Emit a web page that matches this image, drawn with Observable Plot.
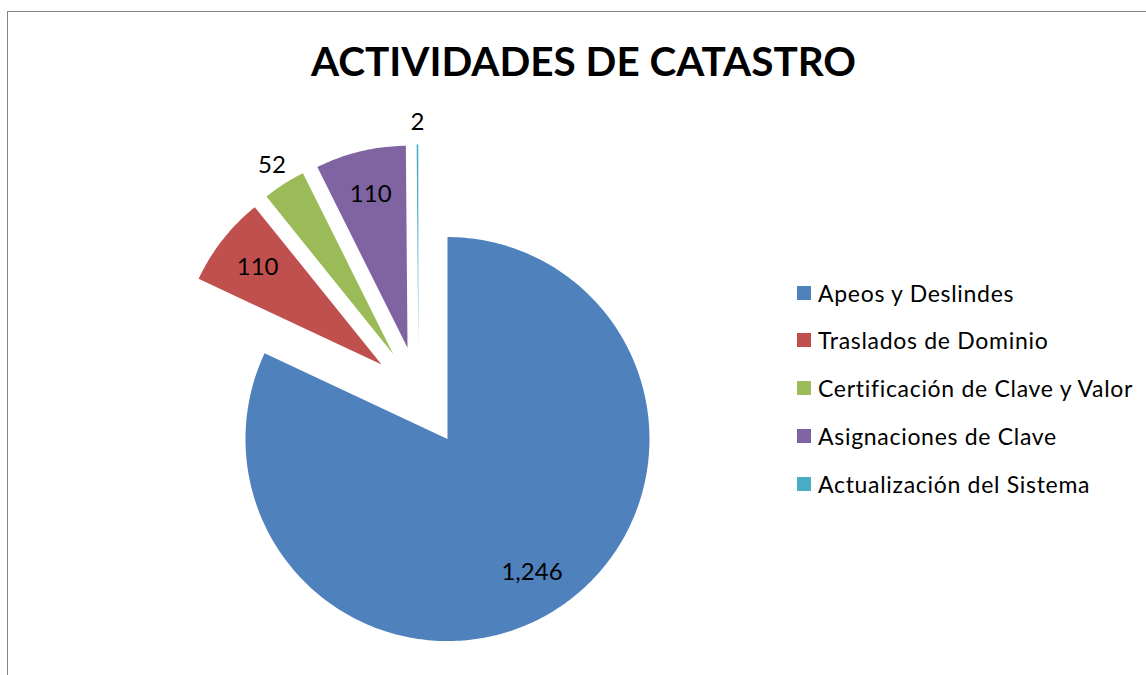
<!DOCTYPE html>
<html>
<head>
<meta charset="utf-8">
<script src="https://cdn.jsdelivr.net/npm/d3@7"></script>
<script src="https://cdn.jsdelivr.net/npm/@observablehq/plot@0.6"></script>
<style>
  html, body { margin: 0; padding: 0; background: #fff; }
  #wrap { position: relative; width: 1146px; height: 675px; overflow: hidden; font-family: Lato, "Open Sans", sans-serif; }
  #frame { position: absolute; left: 7px; top: 11px; width: 1160px; height: 700px; border-top: 1.5px solid #868686; border-left: 1.5px solid #868686; box-sizing: border-box; }
  #chart { position: absolute; left: 0; top: 0; }
  #title { position: absolute; left: 0; width: 1167px; top: 41px; text-align: center; font-weight: 700; font-size: 40.5px; line-height: 40.5px; color: #000; }
  #legend { position: absolute; left: 797px; top: 0; }
  .row { position: absolute; left: 0; height: 26px; display: flex; align-items: center; white-space: nowrap; font-size: 23px; letter-spacing: 0.7px; color: #000; }
  .sw { width: 14px; height: 14px; margin-right: 7px; flex: none; }
</style>
</head>
<body>
<div id="wrap">
  <div id="frame"></div>
  <div id="chart"></div>
  <div id="title">ACTIVIDADES DE CATASTRO</div>
  <div id="legend"></div>
</div>
<script>
// ---- data ----
const categories = ["Apeos y Deslindes", "Traslados de Dominio", "Certificación de Clave y Valor", "Asignaciones de Clave", "Actualización del Sistema"];
const values = [1246, 110, 52, 110, 2];
const valueLabels = ["1,246", "110", "52", "110", "2"];
const palette = ["#4F81BD", "#C0504D", "#9BBB59", "#8064A2", "#4BACC6"];

// ---- layout (pixels) ----
const W = 1146, H = 675;
const CX = 418, CY = 393, R = 202;      // pie centre & radius in pixels
const explodeMain = 54 / R, explodeOther = 47 / R;

const total = d3.sum(values);
const slices = [];
const labelPts = [];
let acc = 0;
values.forEach((v, i) => {
  const a0 = acc / total * 2 * Math.PI;
  acc += v;
  const a1 = acc / total * 2 * Math.PI;
  const mid = (a0 + a1) / 2;
  const ex = i === 0 ? explodeMain : explodeOther;
  const ox = Math.sin(mid) * ex, oy = Math.cos(mid) * ex;
  slices.push({name: categories[i], x: ox, y: oy});
  const n = Math.max(2, Math.ceil((a1 - a0) / (Math.PI / 180)));
  for (let k = 0; k <= n; k++) {
    const t = a0 + (a1 - a0) * k / n;
    slices.push({name: categories[i], x: ox + Math.sin(t), y: oy + Math.cos(t)});
  }
  slices.push({name: categories[i], x: ox, y: oy});
  const frac = v / total;
  const lr = frac < 0.05 ? 1.11 : 0.78;
  labelPts.push({text: valueLabels[i], x: ox + Math.sin(mid) * lr, y: oy + Math.cos(mid) * lr});
});

const plot = Plot.plot({
  width: W, height: H,
  margin: 0,
  x: {domain: [-CX / R, (W - CX) / R], axis: null},
  y: {domain: [(CY - H) / R, CY / R], axis: null},
  color: {domain: categories, range: palette},
  marks: [
    Plot.line(slices, {x: "x", y: "y", z: "name", fill: "name", stroke: "none", curve: "linear"}),
    Plot.text(labelPts, {x: "x", y: "y", text: "text", fontSize: 24, fontFamily: "Lato, 'Open Sans', sans-serif", fill: "#000"})
  ]
});
plot.style.background = "transparent";
document.getElementById("chart").appendChild(plot);

// legend
const legend = document.getElementById("legend");
const rowCenters = [293, 340, 388, 436, 484];
categories.forEach((c, i) => {
  const row = document.createElement("div");
  row.className = "row";
  row.style.top = (rowCenters[i] - 13) + "px";
  const sw = document.createElement("span");
  sw.className = "sw";
  sw.style.background = palette[i];
  const tx = document.createElement("span");
  tx.textContent = c;
  row.appendChild(sw);
  row.appendChild(tx);
  legend.appendChild(row);
});
</script>
</body>
</html>
